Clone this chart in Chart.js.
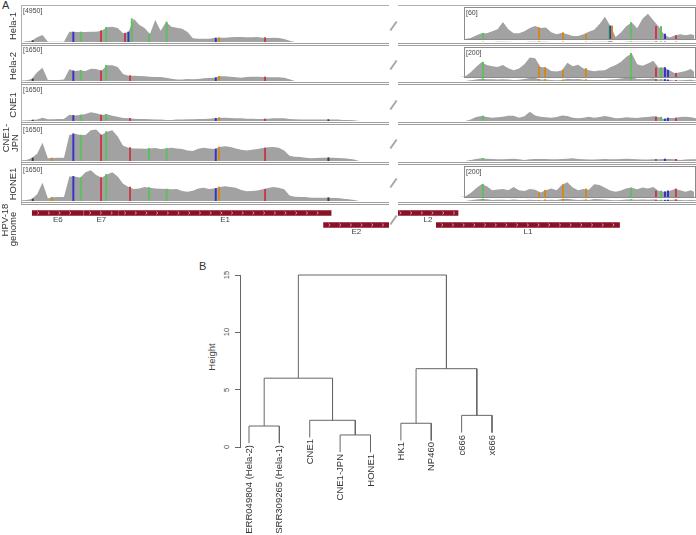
<!DOCTYPE html>
<html>
<head>
<meta charset="utf-8">
<script src="https://cdn.jsdelivr.net/npm/chart.js@4.4.1/dist/chart.umd.min.js"></script>
<style>
  body { margin: 0; background: #fff; }
  #fig { position: relative; width: 696px; height: 535px; overflow: hidden; background: #fff;
         font-family: "Liberation Sans", Arial, Helvetica, sans-serif; color: #333; }
  #fig canvas { position: absolute; }
  .t { position: absolute; white-space: nowrap; line-height: 1; }
</style>
</head>
<body>
<div id="fig"></div>
<script>
// ---------- data: HPV-18 read coverage (reads per 50 bp bin) ----------
const binSize = 50;
const leftBins = Array.from({length: 69}, (_, i) => i * binSize);           // 0 .. 3400 bp
const rightBins = Array.from({length: 56}, (_, i) => 5100 + i * binSize);   // 5100 .. 7850 bp

const trackNames = ['Hela-1', 'Hela-2', 'CNE1', 'CNE1-JPN', 'HONE1'];
const trackRange = [4950, 1650, 1650, 1650, 1650];
const insetRange = [60, 200, null, null, 200];

const hela1Left = [0,95,190,660,990,45,45,45,45,1460,
  1415,1415,1415,1460,1460,1600,2070,2165,1980,1225,
  1415,3295,2450,1980,1130,3110,1600,2825,2165,2025,
  1885,1415,520,470,470,470,565,610,610,660,
  705,705,660,660,705,610,565,610,565,425,
  190,0,0,0,0,0,0,0,0,0,
  0,0,0,0,0,0,0,0,0];
const hela2Left = [15,30,95,410,630,45,45,45,65,550,
  470,500,470,580,565,485,740,740,660,330,
  250,250,235,220,205,190,190,155,110,65,
  65,95,80,95,125,140,155,220,220,205,
  175,155,190,205,205,190,175,175,175,155,
  80,0,0,0,0,0,0,0,0,0,
  0,0,0,0,0,0,0,0,0];
const cne1Left = [15,30,45,65,155,80,80,95,95,300,
  265,285,330,410,360,285,315,250,205,140,
  125,110,95,95,80,65,65,45,45,65,
  65,80,80,95,95,110,125,155,155,140,
  125,125,110,110,95,95,110,125,125,125,
  95,80,65,65,65,65,65,65,65,65,
  45,45,30,0,0,0,0,0,0];
const jpnLeft = [30,45,140,345,865,125,140,155,155,1225,
  1285,1225,1225,1445,1490,1225,1380,1445,1160,720,
  630,595,595,580,595,610,565,595,630,595,
  565,500,470,580,630,595,565,660,690,660,
  595,535,500,535,565,610,645,660,630,500,
  250,205,190,155,125,140,155,155,155,140,
  125,110,65,0,0,0,0,0,0];
const hone1Left = [30,45,95,315,865,125,175,190,190,1160,
  1160,1100,1350,1445,1225,1100,1255,1350,1160,815,
  660,565,595,660,630,595,580,565,550,565,
  470,440,485,595,630,565,595,660,690,660,
  630,520,455,470,500,550,610,660,630,550,
  265,205,190,190,155,155,155,155,140,140,
  110,80,45,0,0,0,0,0,0];

const hela1Right = [0,0,0,0,0,0,0,0,0,0,0,0,0,
  2,7,12,12,16,20,35,20,12,12,16,23,27,23,24,14,10,13,10,6,6,10,15,19,31,46,27,4,14,27,34,22,42,52,39,26,10,3,7,10,8,10,7];
const hela2Right = [0,0,0,0,0,0,0,0,0,0,0,0,5,
  35,75,110,88,80,75,88,65,50,63,95,145,138,75,70,45,40,50,105,80,90,63,50,43,48,50,73,88,113,150,175,95,83,100,120,68,70,50,28,35,45,60,25];
const cne1Right = [0,0,0,0,0,0,0,0,0,0,0,0,0,
  65,190,235,190,155,175,205,250,250,155,220,440,265,205,175,155,190,265,235,155,125,155,205,155,190,235,190,125,140,175,155,140,175,190,220,190,95,140,140,190,205,175,125];
const jpnRight = [0,0,0,0,0,0,0,0,0,0,0,0,0,
  45,95,125,110,95,80,80,95,110,80,45,80,95,95,95,80,80,95,110,125,95,80,65,65,80,95,80,80,95,110,95,80,65,65,80,80,95,95,80,45,65,80,80];
const hone1Right = [0,0,0,0,0,0,0,0,0,0,0,0,5,
  30,65,95,80,50,55,60,50,75,50,45,60,53,33,50,63,50,90,110,70,50,60,53,95,88,68,48,38,48,65,68,58,70,63,75,45,38,45,60,50,38,50,30];

const leftValues = [hela1Left, hela2Left, cne1Left, jpnLeft, hone1Left];
const rightValues = [hela1Right, hela2Right, cne1Right, jpnRight, hone1Right];

// mismatch positions (bp) and base
const varPos  = [109,286,487,556,745,792,968,1000,1015,1031,1192,1356,1813,1844,2272,2862,
                 5864,6386,6442,6609,6823,7038,7050,7066,7242,7475,7522,7559,7587,7661];
const varBase = ['N','G','C','A','T','A','T','C','T','A','A','A','C','G','T','N',
                 'A','G','G','G','G','A','C','G','A','T','A','C','C','T'];
const baseColor = {A: '#5fbf5f', C: '#3434c8', G: '#d4881c', T: '#c63c48', N: '#3c3c3c'};
const trackVars = [
  [109,487,556,745,792,968,1000,1031,1192,1356,1813,1844,2272,5864,6386,6609,6823,7038,7050,7066,7242,7475,7522,7559,7661],
  [109,487,556,745,792,1015,1813,1844,2272,5864,6386,6442,6609,6823,7242,7475,7522,7559,7587,7661],
  [109,487,556,745,792,1015,1813,1844,2272,2862,5864,7475,7522,7559,7587,7661],
  [109,286,487,556,745,792,1015,1192,1356,1813,1844,2272,2862,5864,7475,7559,7661],
  [109,286,487,556,745,792,1015,1192,1356,1813,1844,2272,2862,5864,6386,6442,6609,6823,7242,7475,7522,7559,7587,7661]
];

// HPV-18 genes
const geneNames = ['E6', 'E7', 'E1', 'E2', 'L2', 'L1'];
const geneStart = [105, 590, 914, 2817, 4244, 5430];
const geneEnd   = [581, 907, 2887, 3914, 5632, 7136];
const geneRow   = ['top', 'top', 'top', 'bottom', 'top', 'bottom'];

// dendrogram (hclust style merges, negative = leaf)
const leafLabels = ['ERR049804 (Hela-2)', 'SRR309265 (Hela-1)', 'CNE1', 'CNE1-JPN', 'HONE1', 'HK1', 'NP460', 'c666', 'x666'];
const mergeA = [-4, -1, -6, -3, -8, 2, 3, 6];
const mergeB = [-5, -2, -7, 1, -9, 4, 5, 7];
const mergeHeight = [1.05, 1.83, 2.07, 2.33, 2.76, 6.0, 6.83, 15.0];
const heightTicks = [0, 5, 10, 15];

// ---------- layout ----------
const fig = document.getElementById('fig');
const LEFT_X = 21, LEFT_W = 368, RIGHT_X = 398, RIGHT_W = 298;
const LEFT_DOMAIN = [0, 3426], RIGHT_DOMAIN = [5073, 7848];
const trackTop = [7, 46, 86, 126, 166];
const TRACK_H = 35;
const insetBox = [{top: 7, h: 33, cTop: 10, cH: 29}, {top: 47, h: 31, cTop: 50, cH: 27}, null, null,
                  {top: 166, h: 32, cTop: 170, cH: 27}];
const sideLabel = [[['Hela-1', 13, 26]], [['Hela-2', 13, 66]], [['CNE1', 13, 105]],
                   [['CNE1-', 6, 138], ['JPN', 15, 143]], [['HONE1', 13, 184]]];
const slashY = [25, 64, 104, 143, 182, 219];

function addDiv(css, txt) {
  const d = document.createElement('div');
  d.style.position = 'absolute';
  if (txt !== undefined) { d.className = 't'; d.textContent = txt; }
  Object.assign(d.style, css);
  fig.appendChild(d);
  return d;
}
function addCanvas(left, top, w, h) {
  const c = document.createElement('canvas');
  c.width = w; c.height = h;
  Object.assign(c.style, {left: left + 'px', top: top + 'px', width: w + 'px', height: h + 'px'});
  fig.appendChild(c);
  return c;
}
function hline(x, y, w, color) {
  addDiv({left: x + 'px', top: y + 'px', width: w + 'px', height: '1px', background: color});
}

function baseOpts(domain, range) {
  return {
    responsive: false, animation: false, devicePixelRatio: 1, events: [],
    layout: {padding: 0},
    plugins: {legend: {display: false}, tooltip: {enabled: false}},
    scales: {
      // offset must be off: the bar dataset would otherwise pad the linear axis
      x: {type: 'linear', min: domain[0], max: domain[1], offset: false, grid: {offset: false}, display: false},
      y: {min: 0, max: range, display: false}
    }
  };
}

function coverageChart(left, top, width, height, bins, values, domain, range, vars) {
  const cv = addCanvas(left, top, width, height);
  const inDomain = vars.filter(p => p >= domain[0] && p <= domain[1]);
  const marks = inDomain.map(p => ({x: p, y: values[Math.round((p - bins[0]) / binSize)]}));
  const colors = inDomain.map(p => baseColor[varBase[varPos.indexOf(p)]]);
  return new Chart(cv, {
    type: 'line',
    data: {datasets: [
      {type: 'bar', data: marks, backgroundColor: colors, barThickness: 1.3, order: 0},
      {data: bins.map((b, i) => ({x: b, y: values[i]})), fill: 'origin', backgroundColor: '#a2a2a2',
       borderWidth: 0, pointRadius: 0, tension: 0, order: 1}
    ]},
    options: baseOpts(domain, range)
  });
}

// panel labels
addDiv({left: '2px', top: '0px', fontSize: '11px'}, 'A');
addDiv({left: '199px', top: '261px', fontSize: '11px'}, 'B');

// frame lines
const lineCol = '#9e9e9e';
hline(LEFT_X, 5, LEFT_W, '#b0b0b0');
hline(RIGHT_X, 5, RIGHT_W, '#b0b0b0');
addDiv({left: LEFT_X + 'px', top: '5px', width: '1px', height: '200px', background: '#b0b0b0'});

trackNames.forEach((name, t) => {
  const top = trackTop[t], base = top + TRACK_H;
  // coverage, both sides of the break
  coverageChart(LEFT_X + 1, top, LEFT_W - 1, TRACK_H, leftBins, leftValues[t],
                [LEFT_DOMAIN[0] + 9, LEFT_DOMAIN[1]], trackRange[t], trackVars[t]);
  coverageChart(RIGHT_X, top, RIGHT_W, TRACK_H, rightBins, rightValues[t], RIGHT_DOMAIN, trackRange[t], trackVars[t]);
  addDiv({left: '23px', top: top + 'px', fontSize: '7px', color: '#444'}, '[' + trackRange[t] + ']');

  // zoomed inset
  const ib = insetBox[t];
  if (ib) {
    addDiv({left: '464px', top: ib.top + 'px', width: '232px', height: ib.h + 'px', boxSizing: 'border-box',
            border: '1px solid #8c8c8c', background: '#fff'});
    coverageChart(RIGHT_X, ib.cTop, RIGHT_W - 2, ib.cH, rightBins, rightValues[t],
                  [RIGHT_DOMAIN[0], RIGHT_DOMAIN[1] - 19], insetRange[t], trackVars[t]);
    addDiv({left: '466px', top: (ib.top + 2) + 'px', fontSize: '7px', color: '#444'}, '[' + insetRange[t] + ']');
  }

  // double separator
  [1, 3].forEach(dy => {
    hline(LEFT_X, base + dy, LEFT_W, lineCol);
    hline(RIGHT_X, base + dy, RIGHT_W, lineCol);
  });

  sideLabel[t].forEach(([txt, cx, cy]) =>
    addDiv({left: cx + 'px', top: cy + 'px', fontSize: '9.5px', color: '#333',
            transform: 'translate(-50%,-50%) rotate(-90deg)'}, txt));
});

// break marks
slashY.forEach(y => addDiv({left: '388px', top: y + 'px', width: '11px', height: '0px',
                            borderTop: '2px solid #a8a8a8', transform: 'rotate(-55deg)'}));

// ---------- genome annotation ----------
const chevrons = {
  id: 'chevrons',
  afterDatasetsDraw(chart) {
    const ctx = chart.ctx, a = chart.chartArea;
    ctx.save();
    ctx.beginPath(); ctx.rect(a.left, a.top, a.width, a.height); ctx.clip();
    ctx.beginPath();
    ctx.strokeStyle = 'rgba(255,255,255,0.8)'; ctx.lineWidth = 0.7;
    chart.getSortedVisibleDatasetMetas().forEach(meta => meta.data.forEach(bar => {
      const x0 = Math.min(bar.x, bar.base), x1 = Math.max(bar.x, bar.base);
      for (let x = x0 + 6; x < x1 - 3; x += 10.7) {
        ctx.moveTo(x - 1, bar.y - 1.4); ctx.lineTo(x + 0.6, bar.y); ctx.lineTo(x - 1, bar.y + 1.4);
      }
    }));
    ctx.stroke();
    ctx.restore();
  }
};

function genomeChart(left, width, domain) {
  const top = 207, height = 24;
  const cv = addCanvas(left, top, width, height);
  const chart = new Chart(cv, {
    type: 'bar',
    data: {
      labels: ['top', 'bottom'],
      datasets: geneNames.map((g, i) => ({
        label: g, data: [{x: [geneStart[i], geneEnd[i]], y: geneRow[i]}],
        backgroundColor: '#8a1228', barThickness: 5, grouped: false
      }))
    },
    options: {
      indexAxis: 'y', responsive: false, animation: false, devicePixelRatio: 1, events: [],
      layout: {padding: 0},
      plugins: {legend: {display: false}, tooltip: {enabled: false}},
      scales: {x: {type: 'linear', min: domain[0], max: domain[1], display: false}, y: {display: false}}
    },
    plugins: [chevrons]
  });
  geneNames.forEach((g, i) => {
    const s = Math.max(geneStart[i], domain[0]), e = Math.min(geneEnd[i], domain[1]);
    if (e <= s) return;
    const x = left + chart.scales.x.getPixelForValue((s + e) / 2);
    const y = top + chart.scales.y.getPixelForValue(geneRow[i] === 'top' ? 0 : 1) + 6.5;
    addDiv({left: x + 'px', top: y + 'px', fontSize: '8px', color: '#444', transform: 'translate(-50%,-50%)'}, g);
  });
}
genomeChart(LEFT_X, LEFT_W, LEFT_DOMAIN);
genomeChart(RIGHT_X, RIGHT_W, RIGHT_DOMAIN);
addDiv({left: '5px', top: '220px', fontSize: '9.5px', transform: 'translate(-50%,-50%) rotate(-90deg)'}, 'HPV-18');
addDiv({left: '13px', top: '229px', fontSize: '9.5px', transform: 'translate(-50%,-50%) rotate(-90deg)'}, 'genome');

// ---------- dendrogram ----------
const hang = 0.1 * Math.max(...mergeHeight);
const nodeX = [];
const segs = mergeA.map((a, k) => {
  const h = mergeHeight[k];
  const end = c => c < 0 ? [-c, h - hang] : [nodeX[c - 1], mergeHeight[c - 1]];
  const [xa, ya] = end(a), [xb, yb] = end(mergeB[k]);
  nodeX.push((xa + xb) / 2);
  return [{x: xa, y: ya}, {x: xa, y: h}, {x: xb, y: h}, {x: xb, y: yb}];
});

const dCanvas = addCanvas(235, 272, 269, 185);
const dendro = new Chart(dCanvas, {
  type: 'line',
  data: {datasets: segs.map(s => ({data: s, borderColor: '#666', borderWidth: 1, pointRadius: 0,
                                     tension: 0, fill: false, clip: false}))},
  options: {
    responsive: false, animation: false, devicePixelRatio: 1, events: [],
    layout: {padding: {left: 0, top: 3, right: 3, bottom: 10}},
    plugins: {legend: {display: false}, tooltip: {enabled: false}},
    scales: {
      x: {type: 'linear', min: 0.704, max: 9.296, display: false},
      y: {type: 'linear', min: 0, max: 15,
          ticks: {stepSize: 5, display: false},
          grid: {drawOnChartArea: false, drawTicks: true, tickLength: 5, color: '#666'},
          border: {display: true, color: '#666'},
          afterFit: s => { s.width = 5; }}
    }
  }
});
const dLeft = 240 - dendro.chartArea.left, dTop = 275 - dendro.chartArea.top;
dCanvas.style.left = dLeft + 'px';
dCanvas.style.top = dTop + 'px';

heightTicks.forEach(v => addDiv({left: '227px', top: (dTop + dendro.scales.y.getPixelForValue(v)) + 'px',
  fontSize: '7.5px', color: '#444', transform: 'translate(-50%,-50%) rotate(-90deg)'}, String(v)));
addDiv({left: '212px', top: '357px', fontSize: '9.5px', color: '#444',
        transform: 'translate(-50%,-50%) rotate(-90deg)'}, 'Height');

leafLabels.forEach((lab, i) => {
  const k = mergeA.indexOf(-(i + 1)) >= 0 ? mergeA.indexOf(-(i + 1)) : mergeB.indexOf(-(i + 1));
  const x = dLeft + dendro.scales.x.getPixelForValue(i + 1);
  const y = dTop + dendro.scales.y.getPixelForValue(mergeHeight[k] - hang) + 2;
  addDiv({left: x + 'px', top: y + 'px', fontSize: '9.5px', color: '#333',
          transformOrigin: '0 0', transform: 'rotate(-90deg) translate(-100%,-50%)'}, lab);
});
</script>
</body>
</html>
